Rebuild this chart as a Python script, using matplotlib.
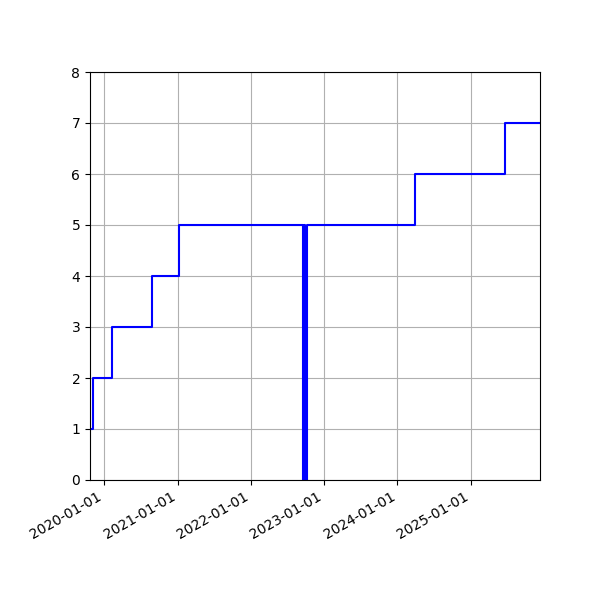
import matplotlib
matplotlib.use("Agg")
import matplotlib.pyplot as plt
import matplotlib.dates as mdates
import numpy as np

dates = np.array([
    "2019-10-22", "2019-11-04", "2020-02-08", "2020-08-24", "2021-01-06",
    "2022-09-20", "2022-09-25", "2022-09-30", "2022-10-07",
    "2024-03-29", "2025-06-20", "2025-12-12",
], dtype="datetime64[D]")
values = [1, 2, 3, 4, 5, 0, 5, 0, 5, 6, 7, 7]

fig = plt.figure(figsize=(6, 6), dpi=100)
ax = fig.add_subplot(111)
ax.plot(dates, values, drawstyle="steps-post", color="blue", linewidth=1.5)
ax.set_xlim(dates[0], dates[-1])
ax.set_ylim(0, 8)
ax.xaxis.set_major_locator(mdates.YearLocator())
ax.xaxis.set_major_formatter(mdates.DateFormatter("%Y-%m-%d"))
ax.grid(True)
fig.autofmt_xdate()
fig.subplots_adjust(left=0.15, right=0.9, top=0.88, bottom=0.2)
fig.savefig("out.png", dpi=100)
